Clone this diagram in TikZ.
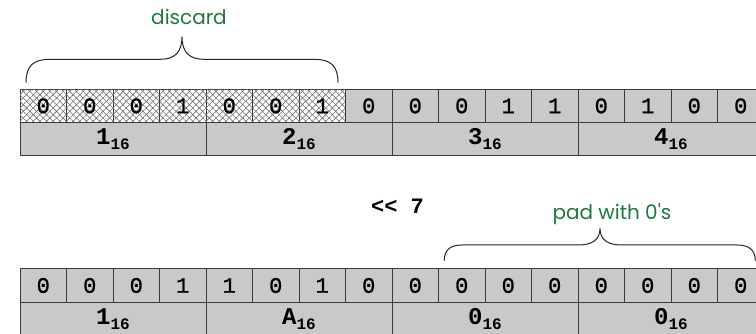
\documentclass[tikz,border=0pt]{standalone}
\usepackage{fontspec}
\setmainfont{Liberation Sans}
\newfontfamily\bitfont[FakeBold=1.3]{Liberation Mono}
\newfontfamily\hexfont{Liberation Mono}
\newfontfamily\notefont{Poppins}
\usetikzlibrary{patterns.meta,calc}
\definecolor{cellgray}{HTML}{C8C9CB}
\definecolor{linegray}{HTML}{3A3A3A}
\definecolor{notegreen}{HTML}{1E7A3C}
\newcommand{\hexlab}[1]{#1\raisebox{-5pt}{\fontsize{16}{16}\selectfont 16}}
\begin{document}
\begin{tikzpicture}[x=1pt,y=-1pt,
  cell/.style={draw=linegray, line width=1pt, fill=cellgray,
    minimum width=46.5pt, minimum height=33.4pt, inner sep=0pt, anchor=north west,
    font=\bitfont\fontsize{22}{22}\selectfont},
  hexcell/.style={cell, minimum width=186pt,
    font=\hexfont\bfseries\fontsize{24}{24}\selectfont},
  hatched/.style={cell, fill=white,
    postaction={pattern={Hatch[angle=45,distance=4.7pt,line width=0.6pt]}, pattern color=black!55}},
  brace/.style={draw=black!85, line width=1pt},
  note/.style={text=notegreen, font=\notefont\fontsize{20}{20}\selectfont},
  shiftlab/.style={font=\hexfont\bfseries\fontsize{22}{22}\selectfont},
]
\useasboundingbox (0,0) rectangle (756,334);
% top word
\foreach \v [count=\i] in {0,0,0,1,0,0,1}
  \node[hatched] (t\i) at ({19.5+(\i-1)*46.5},88.7) {\v};
\foreach \v [count=\i from 8] in {0,0,0,1,1,0,1,0,0}
  \node[cell] (t\i) at ({19.5+(\i-1)*46.5},88.7) {\v};
\foreach \h [count=\i] in {1,2,3,4}
  \node[hexcell] (th\i) at ({19.5+(\i-1)*186},122.1) {\hexlab{\h}};
% bottom word
\foreach \v [count=\i] in {0,0,0,1,1,0,1,0,0,0,0,0,0,0,0,0}
  \node[cell] (b\i) at ({19.5+(\i-1)*46.5},268.3) {\v};
\foreach \h [count=\i] in {1,A,0,0}
  \node[hexcell] (bh\i) at ({19.5+(\i-1)*186},301.7) {\hexlab{\h}};
% shift label
\node[shiftlab] (shift) at (397.5,206.7) {<< 7};
% top brace
\coordinate (tl) at (26,82.7);
\coordinate (tr) at (338,82.7);
\coordinate (ttip) at (182,36.7);
\draw[brace] (tl) .. controls (26,66) and (33,59.3) .. (50,59.3) -- (160,59.3)
  .. controls (174,59.3) and (182,53) .. (ttip)
  .. controls (182,53) and (190,59.3) .. (204,59.3) -- (314,59.3)
  .. controls (331,59.3) and (338,66) .. (tr);
\node[note, anchor=base] (discard) at (189,25) {discard};
% bottom brace
\coordinate (bl) at (444.3,260.7);
\coordinate (br) at (755.3,260.7);
\coordinate (btip) at (600,228.3);
\draw[brace] (bl) .. controls (444.3,250) and (450,245) .. (462,245) -- (578,245)
  .. controls (592,245) and (600,240) .. (btip)
  .. controls (600,240) and (608,245) .. (622,245) -- (737,245)
  .. controls (749,245) and (755.3,250) .. (br);
\node[note, anchor=base] (pad) at (612,220) {pad with 0's};
\end{tikzpicture}
\end{document}
